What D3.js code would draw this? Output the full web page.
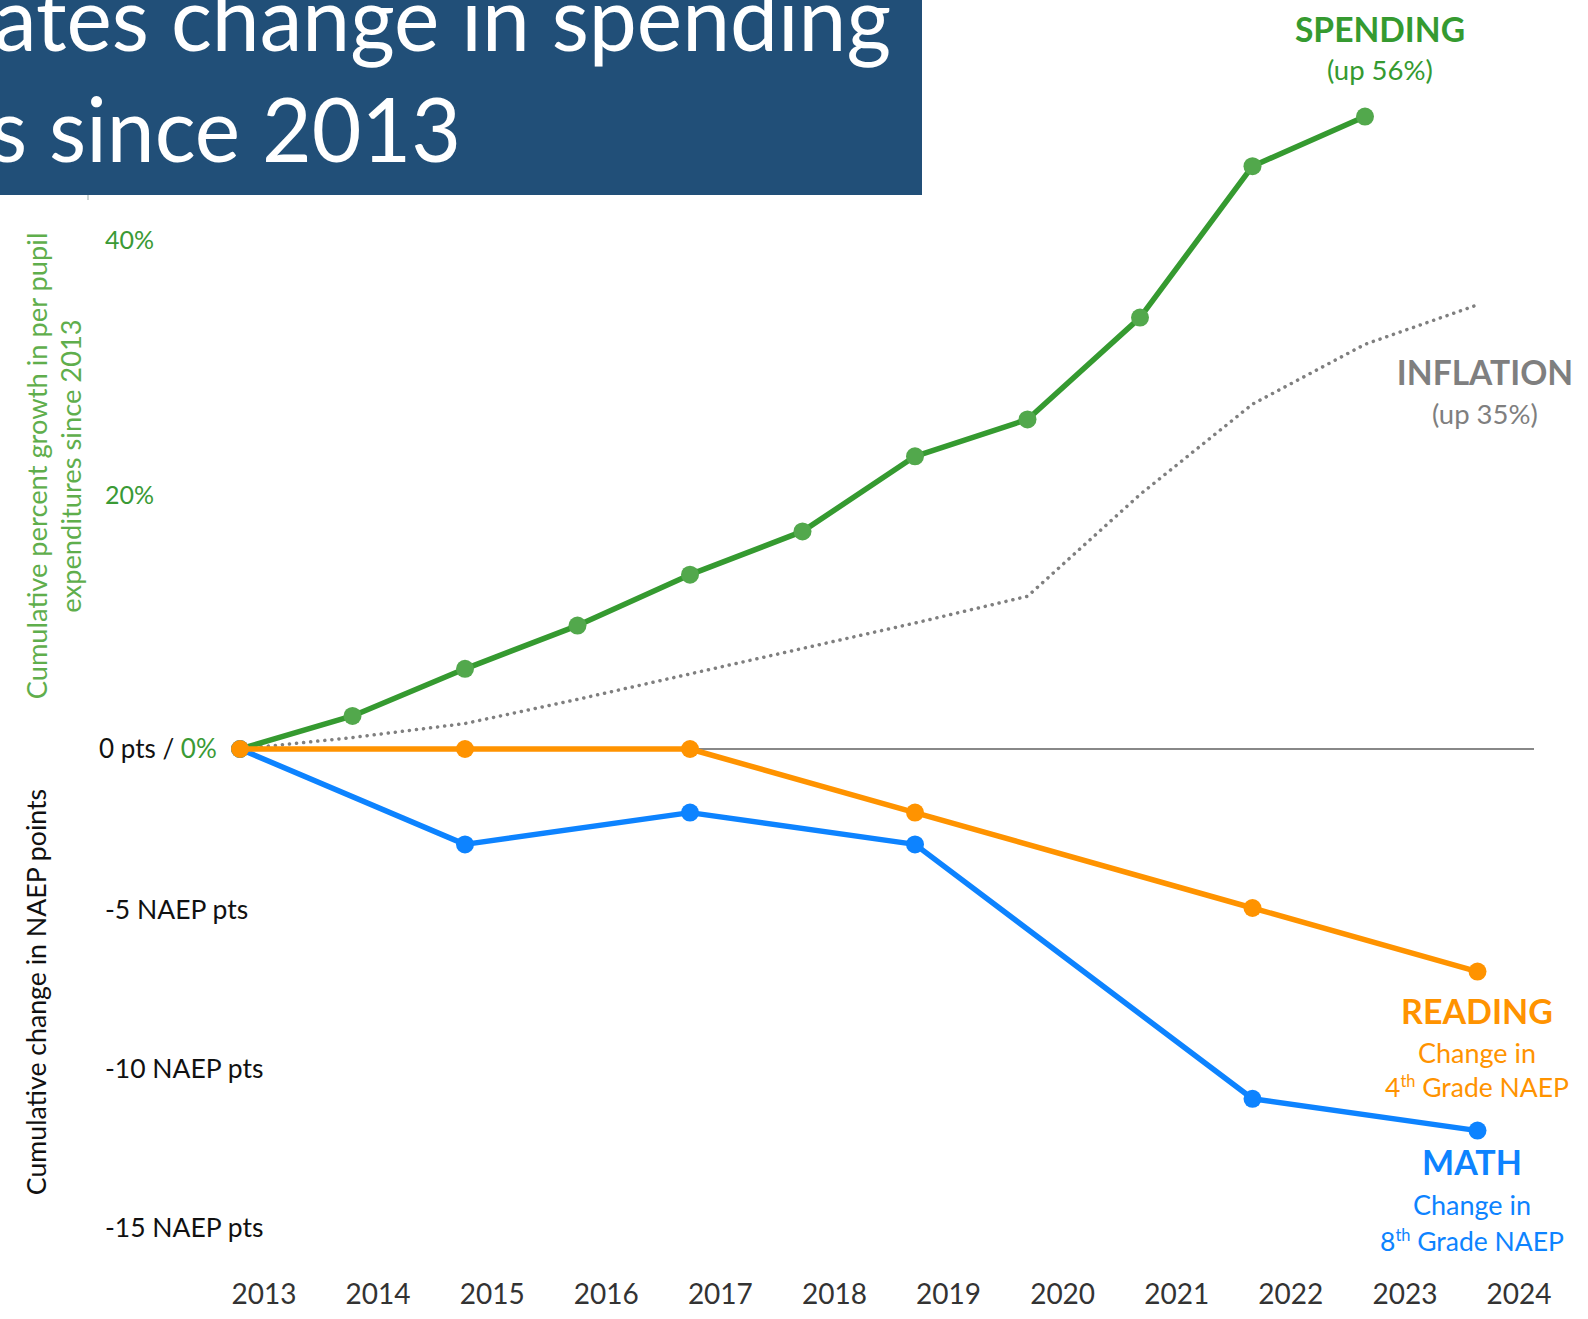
<!DOCTYPE html>
<html>
<head>
<meta charset="utf-8">
<script src="https://cdn.jsdelivr.net/npm/d3@7"></script>
<style>
  body { margin: 0; background: #fff; }
  svg { display: block; font-family: Lato, "Open Sans", sans-serif; }
</style>
</head>
<body>
<div id="chart"></div>
<script>
// data
var spendingYears = [2013, 2014, 2015, 2016, 2017, 2018, 2019, 2020, 2021, 2022, 2023];
var spendingPct   = [0, 2.6, 6.3, 9.7, 13.7, 17.1, 23.0, 25.9, 33.9, 45.8, 49.7];

var inflationYears = [2013, 2014, 2015, 2016, 2017, 2018, 2019, 2020, 2021, 2022, 2023, 2024];
var inflationPct   = [0, 0.9, 2.0, 3.9, 5.9, 7.9, 9.9, 12.0, 20.0, 27.1, 31.8, 34.9];

var naepYears   = [2013, 2015, 2017, 2019, 2022, 2024];
var readingPts  = [0, 0, 0, -2, -5, -7];
var mathPts     = [0, -3, -2, -3, -11, -12];

var tickYears = [2013, 2014, 2015, 2016, 2017, 2018, 2019, 2020, 2021, 2022, 2023, 2024];
var pctTicks  = [40, 20];
var ptsTicks  = [-5, -10, -15];

var titleLines = ["ates change in spending", "s since 2013"];

var W = 1588, H = 1319;
var cfg = {
  green: '#359a30',
  greenDot: '#52a84c',
  greenText: '#3a9a35',
  greenTitle: '#5fae4c',
  orange: '#ff9300',
  blue: '#0d83ff',
  gray: '#7f7f7f',
  banner: '#214f78',
  lineWidth: 5.5,
  dotR: 9
};

var svg = d3.select('#chart').append('svg')
  .attr('width', W).attr('height', H);
svg.append('rect').attr('width', W).attr('height', H).attr('fill', '#fff');

// scales: points and axis labels sit on slightly different grids in the original
var x = d3.scaleLinear().domain([2013, 2024]).range([240, 1477.5]);
var xLab = d3.scaleLinear().domain([2013, 2024]).range([264, 1519]);
var yPct = d3.scaleLinear().domain([0, 40]).range([749, 240]);
var yPts = d3.scaleLinear().domain([0, -5]).range([749, 908]);

// banner title (cut off at the left edge, as in the original slide)
svg.append('rect').attr('x', 0).attr('y', 0).attr('width', 922).attr('height', 195)
  .attr('fill', cfg.banner);
svg.append('line').attr('x1', 88).attr('x2', 88).attr('y1', 195).attr('y2', 200)
  .attr('stroke', '#9aa').attr('stroke-width', 1);

svg.selectAll('text.title').data(titleLines).enter().append('text')
  .attr('class', 'title')
  .attr('x', function(d, i){ return i ? -10 : -6 })
  .attr('y', function(d, i){ return i ? 162 : 51 })
  .attr('textLength', function(d, i){ return i ? 471 : 897 })
  .attr('lengthAdjust', 'spacingAndGlyphs')
  .attr('font-size', 89)
  .attr('fill', '#fff')
  .text(function(d){ return d });

// zero line
svg.append('line')
  .attr('x1', x(2013)).attr('x2', 1534)
  .attr('y1', yPct(0)).attr('y2', yPct(0))
  .attr('stroke', '#888').attr('stroke-width', 2);

// inflation (dotted)
var inflLine = d3.line()
  .x(function(d){ return x(d[0]) })
  .y(function(d){ return yPct(d[1]) });
svg.append('path')
  .datum(d3.zip(inflationYears, inflationPct))
  .attr('d', inflLine)
  .attr('fill', 'none')
  .attr('stroke', cfg.gray)
  .attr('stroke-width', 3.5)
  .attr('stroke-linecap', 'round')
  .attr('stroke-linejoin', 'round')
  .attr('stroke-dasharray', '0.1 7');

function series(years, vals, yScale, lineColor, dotColor){
  var pts = d3.zip(years, vals);
  var line = d3.line()
    .x(function(d){ return x(d[0]) })
    .y(function(d){ return yScale(d[1]) });
  var g = svg.append('g');
  g.append('path').datum(pts)
    .attr('d', line)
    .attr('fill', 'none')
    .attr('stroke', lineColor)
    .attr('stroke-width', cfg.lineWidth)
    .attr('stroke-linejoin', 'round');
  g.selectAll('circle').data(pts).enter().append('circle')
    .attr('cx', function(d){ return x(d[0]) })
    .attr('cy', function(d){ return yScale(d[1]) })
    .attr('r', cfg.dotR)
    .attr('fill', dotColor);
}

series(spendingYears, spendingPct, yPct, cfg.green, cfg.greenDot);
series(naepYears, mathPts, yPts, cfg.blue, cfg.blue);
series(naepYears, readingPts, yPts, cfg.orange, cfg.orange);

// x tick labels
svg.selectAll('text.xtick').data(tickYears).enter().append('text')
  .attr('class', 'xtick')
  .attr('x', function(d){ return xLab(d) })
  .attr('y', 1304)
  .attr('text-anchor', 'middle')
  .attr('font-size', 28)
  .attr('fill', '#333')
  .text(function(d){ return d });

// left tick labels
svg.selectAll('text.pct').data(pctTicks).enter().append('text')
  .attr('class', 'pct')
  .attr('x', 105)
  .attr('y', function(d){ return yPct(d) + 9 })
  .attr('font-size', 25)
  .attr('fill', cfg.greenText)
  .text(function(d){ return d + '%' });

svg.selectAll('text.pts').data(ptsTicks).enter().append('text')
  .attr('class', 'pts')
  .attr('x', 105)
  .attr('y', function(d){ return yPts(d) + 11 })
  .attr('font-size', 26.5)
  .attr('fill', '#111')
  .text(function(d){ return d + ' NAEP pts' });

var zeroLab = svg.append('text')
  .attr('x', 99).attr('y', yPct(0) + 9)
  .attr('font-size', 26);
zeroLab.append('tspan').attr('fill', '#111').text('0 pts / ');
zeroLab.append('tspan').attr('fill', cfg.greenText).text('0%');

// rotated axis titles
var gTitle = svg.append('text')
  .attr('transform', 'translate(0,466) rotate(-90)')
  .attr('text-anchor', 'middle')
  .attr('font-size', 27.3)
  .attr('fill', cfg.greenTitle);
gTitle.append('tspan').attr('x', 0).attr('y', 47).text('Cumulative percent growth in per pupil');
gTitle.append('tspan').attr('x', 0).attr('y', 81).text('expenditures since 2013');

svg.append('text')
  .attr('transform', 'translate(0,992) rotate(-90)')
  .attr('text-anchor', 'middle')
  .attr('x', 0).attr('y', 46)
  .attr('font-size', 26.7)
  .attr('fill', '#111')
  .text('Cumulative change in NAEP points');

// series labels
function label(cx, lines, color){
  var g = svg.append('g').attr('fill', color).attr('text-anchor', 'middle');
  lines.forEach(function(l){
    var t = g.append('text')
      .attr('x', cx).attr('y', l.y)
      .attr('font-size', l.size)
      .attr('font-weight', l.bold ? 700 : 400);
    if (l.sup) {
      t.append('tspan').text(l.pre);
      t.append('tspan').attr('font-size', l.size * 0.62).attr('dy', -10).text(l.sup);
      t.append('tspan').attr('dy', 10).text(l.post);
    } else {
      t.text(l.text);
    }
  });
}

label(1380, [
  {text: 'SPENDING', y: 42, size: 33.6, bold: true},
  {text: '(up 56%)', y: 80, size: 27.5}
], cfg.green);

label(1485, [
  {text: 'INFLATION', y: 385, size: 33.6, bold: true},
  {text: '(up 35%)', y: 424, size: 27.5}
], cfg.gray);

label(1477, [
  {text: 'READING', y: 1024, size: 34, bold: true},
  {text: 'Change in', y: 1063, size: 27},
  {pre: '4', sup: 'th', post: ' Grade NAEP', y: 1097, size: 26.5}
], cfg.orange);

label(1472, [
  {text: 'MATH', y: 1175, size: 34, bold: true},
  {text: 'Change in', y: 1215, size: 27},
  {pre: '8', sup: 'th', post: ' Grade NAEP', y: 1251, size: 26.5}
], cfg.blue);
</script>
</body>
</html>
